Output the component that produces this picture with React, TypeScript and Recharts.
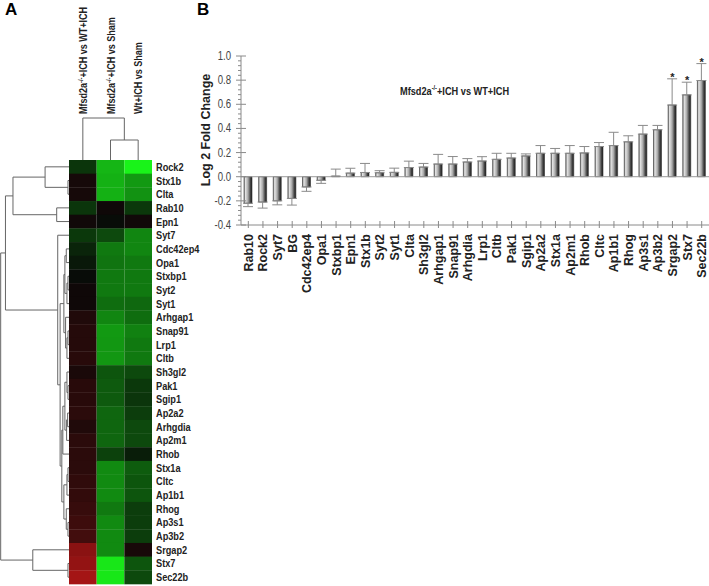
import React from 'react';
import {
  BarChart, Bar, XAxis, YAxis, Cell, ComposedChart, Line, ErrorBar,
  ReferenceLine, ScatterChart, Scatter,
} from 'recharts';

// ---------- Panel A: heatmap ----------
const genes = ['Rock2','Stx1b','Clta','Rab10','Epn1','Syt7','Cdc42ep4','Opa1','Stxbp1','Syt2','Syt1','Arhgap1','Snap91','Lrp1','Cltb','Sh3gl2','Pak1','Sgip1','Ap2a2','Arhgdia','Ap2m1','Rhob','Stx1a','Cltc','Ap1b1','Rhog','Ap3s1','Ap3b2','Srgap2','Stx7','Sec22b'];
const colKoVsWt = [-0.17,0.05,0.05,-0.17,0.03,-0.18,-0.1,-0.05,0.0,0.02,0.02,0.1,0.12,0.12,0.13,0.07,0.13,0.13,0.15,0.1,0.15,0.15,0.15,0.17,0.18,0.2,0.23,0.25,0.58,0.62,0.7];
const colKoVsSham = [-0.7,-0.68,-0.68,0.02,0.0,-0.25,-0.45,-0.43,-0.45,-0.45,-0.4,-0.5,-0.58,-0.57,-0.57,-0.3,-0.32,-0.32,-0.37,-0.37,-0.37,-0.22,-0.52,-0.52,-0.52,-0.45,-0.52,-0.52,-0.52,-0.9,-0.9];
const colWtVsSham = [-0.95,-0.58,-0.55,-0.18,0.03,-0.5,-0.5,-0.45,-0.45,-0.45,-0.38,-0.4,-0.48,-0.45,-0.45,-0.25,-0.18,-0.17,-0.2,-0.25,-0.25,-0.07,-0.33,-0.3,-0.3,-0.2,-0.2,-0.2,0.06,-0.3,-0.25];
const columnLabels = [
  { pre: 'Mfsd2a', sup: '-/-', post: '+ICH vs WT+ICH' },
  { pre: 'Mfsd2a', sup: '-/-', post: '+ICH vs Sham' },
  { pre: 'Wt+ICH vs Sham', sup: '', post: '' },
];

// row dendrogram: a/b = leaf row index or merge id, h = merge height (0 leaves .. 1 root)
const rowMerges = [
  { id: 'm1', a: 1, b: 2, h: 0.015 },
  { id: 'm2', a: 0, b: 'm1', h: 0.35 },
  { id: 'm3', a: 3, b: 4, h: 0.18 },
  { id: 'm4', a: 'm2', b: 'm3', h: 0.82 },
  { id: 'm5', a: 6, b: 7, h: 0.04 },
  { id: 'm6', a: 8, b: 9, h: 0.015 },
  { id: 'm7', a: 'm6', b: 10, h: 0.03 },
  { id: 'm8', a: 'm5', b: 'm7', h: 0.06 },
  { id: 'm9', a: 12, b: 13, h: 0.015 },
  { id: 'm10', a: 'm9', b: 14, h: 0.03 },
  { id: 'm11', a: 11, b: 'm10', h: 0.05 },
  { id: 'm12', a: 'm8', b: 'm11', h: 0.075 },
  { id: 'm14', a: 16, b: 17, h: 0.015 },
  { id: 'm15', a: 15, b: 'm14', h: 0.03 },
  { id: 'm16', a: 18, b: 19, h: 0.02 },
  { id: 'm17', a: 'm16', b: 20, h: 0.035 },
  { id: 'm18', a: 'm15', b: 'm17', h: 0.06 },
  { id: 'm19', a: 'm18', b: 21, h: 0.09 },
  { id: 'm20', a: 22, b: 23, h: 0.015 },
  { id: 'm21', a: 'm20', b: 24, h: 0.03 },
  { id: 'm22', a: 26, b: 27, h: 0.015 },
  { id: 'm23', a: 25, b: 'm22', h: 0.04 },
  { id: 'm24', a: 'm21', b: 'm23', h: 0.075 },
  { id: 'm25', a: 'm19', b: 'm24', h: 0.105 },
  { id: 'm26', a: 'm12', b: 'm25', h: 0.13 },
  { id: 'm13', a: 5, b: 'm26', h: 0.165 },
  { id: 'm27', a: 'm4', b: 'm13', h: 0.93 },
  { id: 'm28', a: 29, b: 30, h: 0.015 },
  { id: 'm29', a: 28, b: 'm28', h: 0.53 },
  { id: 'm30', a: 'm27', b: 'm29', h: 1.0 },
];
const colMerges = [
  { id: 'c1', a: 1, b: 2, h: 0.4 },
  { id: 'c2', a: 0, b: 'c1', h: 0.84 },
];

// ---------- Panel B: bar chart ----------
const barGenes = ['Rab10','Rock2','Syt7','BG','Cdc42ep4','Opa1','Stxbp1','Epn1','Stx1b','Syt2','Syt1','Clta','Sh3gl2','Arhgap1','Snap91','Arhgdia','Lrp1','Cltb','Pak1','Sgip1','Ap2a2','Stx1a','Ap2m1','Rhob','Cltc','Ap1b1','Rhog','Ap3s1','Ap3b2','Srgap2','Stx7','Sec22b'];
const barValues = [-0.22,-0.21,-0.2,-0.18,-0.085,-0.03,0.005,0.03,0.035,0.033,0.036,0.076,0.08,0.105,0.105,0.122,0.13,0.144,0.155,0.172,0.194,0.194,0.194,0.197,0.25,0.258,0.289,0.353,0.389,0.594,0.678,0.797];
const barErrors = [0.028,0.05,0.033,0.055,0.036,0.025,0.058,0.04,0.075,0.017,0.035,0.053,0.03,0.08,0.062,0.028,0.036,0.05,0.039,0.017,0.064,0.04,0.064,0.053,0.033,0.11,0.05,0.072,0.036,0.217,0.105,0.14];
const significant = ['Srgap2', 'Stx7', 'Sec22b'];
const majorTicks = [-0.4, -0.2, 0, 0.2, 0.4, 0.6, 0.8, 1.0];

// ---------- derived tables ----------
function heatColor(v: number) {
  const m = Math.min(1, Math.abs(v));
  const main = Math.round(12 + 243 * m);
  const low = Math.round(8 + 18 * m);
  return v > 0 ? `rgb(${Math.round(main * 0.9)},${low},${low})` : `rgb(${low},${main},${low})`;
}
const heatData = genes.map((g, i) => ({ gene: g, c0: 1, c1: 1, c2: 1, v: [colKoVsWt[i], colKoVsSham[i], colWtVsSham[i]] }));

function dendroSegments(merges: any[]) {
  const pos: Record<string, { y: number; h: number }> = {};
  const get = (k: any) => (typeof k === 'number' ? { y: k, h: 0 } : pos[k]);
  return merges.map((m) => {
    const A = get(m.a);
    const B = get(m.b);
    pos[m.id] = { y: (A.y + B.y) / 2, h: m.h };
    return [
      { h: A.h, y: A.y }, { h: m.h, y: A.y }, { h: m.h, y: B.y }, { h: B.h, y: B.y },
    ];
  });
}
const rowSegs = dendroSegments(rowMerges);
const colSegs = dendroSegments(colMerges);

const barData = barGenes.map((g, i) => {
  const v = barValues[i];
  const e = barErrors[i];
  return {
    gene: g,
    value: v,
    err: v >= 0 ? [0, e] : [e, 0],
    star: significant.includes(g) ? v + e : null,
  };
});
const allTicks: number[] = [];
for (let i = 0; i < majorTicks.length - 1; i++) {
  for (let k = 0; k < 5; k++) allTicks.push(+(majorTicks[i] + k * 0.04).toFixed(2));
}
allTicks.push(majorTicks[majorTicks.length - 1]);

const sansFont = "'Liberation Sans', Arial, sans-serif";
const AXIS_X = 51;
const AXIS_C = '#8a8a8a';

const YTick = (props: any) => {
  const { y, payload } = props;
  const v = payload.value;
  const major = majorTicks.some((t) => Math.abs(t - v) < 1e-6);
  return (
    <g>
      <line x1={AXIS_X - (major ? 5 : 3)} x2={AXIS_X + (major ? 5 : 0)} y1={y} y2={y} stroke={AXIS_C} strokeWidth={1} />
      {major && (
        <text transform={`translate(${AXIS_X - 10},${y + 4}) scale(0.8,1)`} textAnchor="end" fontSize={12} fill="#444" fontFamily={sansFont}>
          {v.toFixed(1)}
        </text>
      )}
    </g>
  );
};

const XTick = (props: any) => {
  const { x, y, payload } = props;
  return (
    <g>
      <line x1={x} x2={x} y1={y - 6} y2={y + 1} stroke={AXIS_C} strokeWidth={1} />
      <text transform={`translate(${x + 4.5},${y + 7}) rotate(-90)`} textAnchor="end" fontSize={12.5} fontWeight="bold" fill="#222" fontFamily={sansFont}>
        {payload.value}
      </text>
    </g>
  );
};

const StarDot = (props: any) => {
  const { cx, cy, index } = props;
  if (cy == null || cx == null || isNaN(cy)) return <g key={`s${index}`} />;
  return (
    <text key={`s${index}`} x={cx} y={cy + 2} textAnchor="middle" fontSize={11} fontWeight="bold" fill="#222" fontFamily={sansFont}>*</text>
  );
};

const ColTick = (props: any) => {
  const { x, y, payload } = props;
  const lab = columnLabels[payload.value];
  if (!lab) return <g />;
  return (
    <text transform={`translate(${x + 4},${y + 6}) rotate(-90) scale(0.9,1)`} textAnchor="start" fontSize={10} fontWeight="bold" fill="#222" fontFamily={sansFont}>
      {lab.pre}
      {lab.sup && <tspan fontSize={6.5} dy={-4}>{lab.sup}</tspan>}
      {lab.sup && <tspan dy={4}>{lab.post}</tspan>}
    </text>
  );
};

const RowTick = (props: any) => {
  const { x, y, payload } = props;
  return (
    <text transform={`translate(${x + 2},${y + 4}) scale(0.8,1)`} textAnchor="start" fontSize={11.5} fontWeight="bold" fill="#222" fontFamily={sansFont}>
      {payload.value}
    </text>
  );
};

const noShape = () => <g />;

export default function App() {
  return (
    <div style={{ position: 'absolute', left: 0, top: 0, width: 709, height: 586, background: '#fff', overflow: 'hidden', fontFamily: 'Arial, sans-serif' }}>
      <div style={{ position: 'absolute', left: 5, top: 0, fontSize: 17, fontWeight: 'bold', fontFamily: sansFont }}>A</div>
      <div style={{ position: 'absolute', left: 197, top: 0, fontSize: 17, fontWeight: 'bold', fontFamily: sansFont }}>B</div>

      {/* column dendrogram + labels */}
      <div style={{ position: 'absolute', left: 69, top: 0 }}>
        <ScatterChart width={83} height={160} margin={{ top: 0, right: 0, bottom: 0, left: 0 }} style={{ overflow: 'visible' }}>
          <XAxis type="number" dataKey="y" domain={[-0.5, 2.5]} orientation="top" height={110} ticks={[0, 1, 2]} interval={0} tick={<ColTick />} tickLine={false} axisLine={false} tickSize={0} />
          <YAxis type="number" dataKey="h" domain={[0, 1]} hide />
          {colSegs.map((seg, i) => (
            <Scatter key={i} data={seg} line={{ stroke: '#666', strokeWidth: 1 }} shape={noShape} isAnimationActive={false} />
          ))}
        </ScatterChart>
      </div>

      {/* row dendrogram */}
      <div style={{ position: 'absolute', left: 0, top: 100 }}>
        <ScatterChart width={69} height={486} margin={{ top: 60, right: 0, bottom: 2, left: 0 }}>
          <XAxis type="number" dataKey="h" domain={[0, 1.01]} reversed hide />
          <YAxis type="number" dataKey="y" domain={[-0.5, 30.5]} reversed hide />
          {rowSegs.map((seg, i) => (
            <Scatter key={i} data={seg} line={{ stroke: '#666', strokeWidth: 1 }} shape={noShape} isAnimationActive={false} />
          ))}
        </ScatterChart>
      </div>

      {/* heatmap */}
      <div style={{ position: 'absolute', left: 0, top: 100 }}>
        <BarChart width={220} height={486} layout="vertical" data={heatData} margin={{ top: 60, right: 0, bottom: 2, left: 69 }} barCategoryGap={0}>
          <XAxis type="number" domain={[0, 3]} hide />
          <YAxis type="category" dataKey="gene" orientation="right" width={68} interval={0} tick={<RowTick />} tickLine={false} axisLine={false} tickSize={0} />
          {[0, 1, 2].map((c) => (
            <Bar key={c} dataKey={`c${c}`} stackId="h" isAnimationActive={false}>
              {heatData.map((d, i) => (
                <Cell key={i} fill={heatColor(d.v[c])} />
              ))}
            </Bar>
          ))}
        </BarChart>
      </div>

      {/* bar chart */}
      <div style={{ position: 'absolute', left: 190, top: 0 }}>
        <ComposedChart width={519} height={300} data={barData} margin={{ top: 56, right: 0, bottom: 0, left: 0 }} barCategoryGap="45%">
          <defs>
            <linearGradient id="cyl" x1="0" y1="0" x2="1" y2="0">
              <stop offset="0%" stopColor="#7a7a7a" />
              <stop offset="18%" stopColor="#e4e4e4" />
              <stop offset="50%" stopColor="#a9a9a9" />
              <stop offset="80%" stopColor="#444" />
              <stop offset="100%" stopColor="#1c1c1c" />
            </linearGradient>
          </defs>
          <XAxis dataKey="gene" interval={0} height={75} tick={<XTick />} tickLine={false} tickSize={0} axisLine={{ stroke: AXIS_C }} />
          <YAxis type="number" domain={[-0.4, 1.0]} ticks={allTicks} interval={0} width={51} tick={<YTick />} tickLine={false} tickSize={0} axisLine={{ stroke: AXIS_C }} />
          <ReferenceLine y={0} stroke="#9a9a9a" strokeWidth={1} />
          <Bar dataKey="value" fill="url(#cyl)" stroke="#333" strokeWidth={0.6} barSize={8} isAnimationActive={false}>
            <ErrorBar dataKey="err" direction="y" width={5} stroke="#8a8a8a" strokeWidth={1} />
          </Bar>
          <Line dataKey="star" stroke="none" dot={<StarDot />} activeDot={false} isAnimationActive={false} connectNulls={false} />
        </ComposedChart>
      </div>

      <div style={{ position: 'absolute', left: 206 - 60, top: 130 - 8, width: 120, height: 16, transform: 'rotate(-90deg)', textAlign: 'center', fontSize: 12.5, fontWeight: 'bold', fontFamily: sansFont, color: '#222', lineHeight: '16px', whiteSpace: 'nowrap' }}>
        Log 2 Fold Change
      </div>
      <div style={{ position: 'absolute', left: 400, top: 84, fontSize: 11.5, fontWeight: 'bold', fontFamily: sansFont, color: '#222', whiteSpace: 'nowrap', transform: 'scaleX(0.8)', transformOrigin: '0 0' }}>
        Mfsd2a<sup style={{ fontSize: 7 }}>-/-</sup>+ICH vs WT+ICH
      </div>
    </div>
  );
}
